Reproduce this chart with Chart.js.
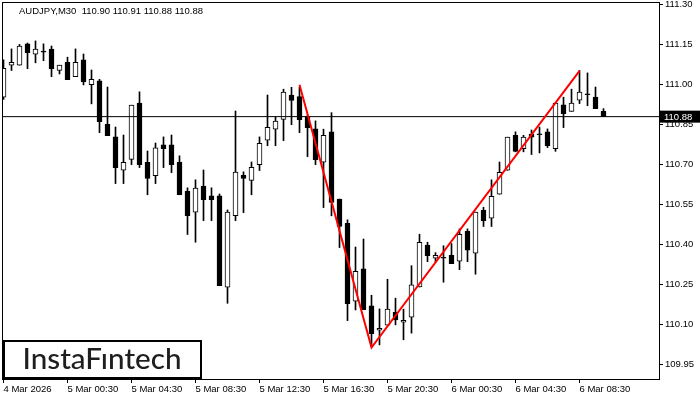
<!DOCTYPE html>
<html>
<head>
<meta charset="utf-8">
<script src="https://cdn.jsdelivr.net/npm/chart.js@4.4.1/dist/chart.umd.min.js"></script>
<style>
  html, body { margin: 0; background: #fff; }
  canvas { display: block; }
</style>
</head>
<body>
<canvas id="chart" width="700" height="400"></canvas>
<script>
const title = "AUDJPY,M30  110.90 110.91 110.88 110.88";
const tickIdx = [0, 8, 16, 24, 32, 40, 48, 56, 64, 72];
const tickLabels = ["4 Mar 2026", "5 Mar 00:30", "5 Mar 04:30", "5 Mar 08:30", "5 Mar 12:30",
  "5 Mar 16:30", "5 Mar 20:30", "6 Mar 00:30", "6 Mar 04:30", "6 Mar 08:30"];
const yTicks = [109.95, 110.10, 110.25, 110.40, 110.55, 110.70, 110.85, 111.00, 111.15, 111.30];
const yMin = 109.896, yMax = 111.310;
const lastPrice = 110.88;

// M30 candles, 4 Mar 20:30 .. 6 Mar 10:00
const opens = [110.953, 111.073, 111.073, 111.153, 111.114, 111.122, 111.133, 111.053, 111.084, 111.030,
  111.093, 111.000, 111.014, 110.851, 110.804, 110.679, 110.720, 110.931, 110.709, 110.659,
  110.774, 110.774, 110.710, 110.601, 110.522, 110.620, 110.583, 110.583, 110.240, 110.509,
  110.660, 110.641, 110.700, 110.792, 110.833, 110.870, 110.961, 110.955, 110.880, 110.834,
  110.709, 110.823, 110.571, 110.480, 110.188, 110.309, 110.170, 110.079, 110.098, 110.146,
  110.109, 110.128, 110.241, 110.398, 110.349, 110.349, 110.360, 110.338, 110.451, 110.368,
  110.530, 110.499, 110.589, 110.679, 110.810, 110.760, 110.815, 110.812, 110.823, 110.760,
  110.924, 110.900, 110.942, 110.962, 110.953, 110.900];
const highs = [111.093, 111.134, 111.151, 111.156, 111.164, 111.153, 111.145, 111.073, 111.103, 111.134,
  111.115, 111.055, 111.020, 110.991, 110.841, 110.811, 110.923, 110.973, 110.751, 110.781,
  110.804, 110.811, 110.733, 110.613, 110.643, 110.680, 110.613, 110.590, 110.530, 110.901,
  110.673, 110.710, 110.804, 110.961, 110.880, 110.983, 110.990, 110.990, 110.886, 110.864,
  110.833, 110.895, 110.571, 110.493, 110.391, 110.421, 110.210, 110.159, 110.270, 110.199,
  110.158, 110.321, 110.439, 110.409, 110.370, 110.396, 110.404, 110.459, 110.459, 110.522,
  110.540, 110.643, 110.710, 110.803, 110.823, 110.810, 110.830, 110.841, 110.834, 110.931,
  110.953, 110.983, 111.053, 111.044, 110.991, 110.910];
const lows = [110.945, 111.053, 111.073, 111.060, 111.082, 111.090, 111.030, 111.040, 111.019, 111.030,
  110.999, 110.928, 110.820, 110.809, 110.629, 110.629, 110.700, 110.689, 110.587, 110.629,
  110.689, 110.670, 110.587, 110.438, 110.409, 110.490, 110.490, 110.246, 110.180, 110.490,
  110.520, 110.587, 110.678, 110.771, 110.771, 110.790, 110.850, 110.820, 110.730, 110.700,
  110.539, 110.508, 110.389, 110.115, 110.155, 110.156, 110.017, 110.024, 110.098, 110.099,
  110.043, 110.068, 110.241, 110.336, 110.336, 110.259, 110.329, 110.306, 110.336, 110.289,
  110.468, 110.468, 110.589, 110.679, 110.748, 110.748, 110.738, 110.744, 110.764, 110.750,
  110.839, 110.900, 110.929, 110.921, 110.910, 110.880];
const closes = [111.061, 111.084, 111.145, 111.120, 111.133, 111.122, 111.060, 111.073, 111.019, 111.084,
  111.010, 111.020, 110.861, 110.809, 110.689, 110.709, 110.923, 110.700, 110.648, 110.763,
  110.760, 110.700, 110.587, 110.509, 110.612, 110.569, 110.569, 110.246, 110.522, 110.672,
  110.648, 110.690, 110.780, 110.840, 110.863, 110.972, 110.941, 110.869, 110.839, 110.719,
  110.810, 110.558, 110.468, 110.179, 110.300, 110.156, 110.066, 110.086, 110.158, 110.118,
  110.116, 110.249, 110.409, 110.359, 110.360, 110.349, 110.329, 110.439, 110.379, 110.522,
  110.490, 110.581, 110.671, 110.803, 110.750, 110.803, 110.803, 110.812, 110.771, 110.931,
  110.891, 110.931, 110.972, 110.962, 110.910, 110.880];

// double bottom / "V" pattern lines
const patIdx = [37, 46, 72];
const patVal = [111.00, 110.014, 111.052];

const idx = opens.map((_, i) => i);
const axisFont = { family: "Liberation Sans", size: 9.5 };

const overlay = {
  id: "overlay",
  afterDraw(chart) {
    const { ctx, chartArea: a, scales: { y } } = chart;
    ctx.save();
    // frame
    ctx.strokeStyle = "#000";
    ctx.lineWidth = 1;
    ctx.strokeRect(a.left - 0.5, a.top + 0.5, a.right - a.left + 1, a.bottom - a.top);
    // symbol header
    ctx.fillStyle = "#000";
    ctx.font = '9.5px "Liberation Sans"';
    ctx.textBaseline = "middle";
    ctx.fillText(title, 19, 11);
    // current price tag
    const py = y.getPixelForValue(lastPrice);
    ctx.fillRect(a.right + 1, py - 6, 40, 12);
    ctx.fillStyle = "#fff";
    ctx.fillText(lastPrice.toFixed(2), a.right + 5, py + 0.5);
    // logo
    ctx.fillStyle = "#fff";
    ctx.fillRect(4, 341, 197, 37);
    ctx.lineWidth = 2;
    ctx.strokeStyle = "#000";
    ctx.strokeRect(4, 341, 197, 37);
    const logo = "InstaF\u0131ntech";
    let size = 28;
    ctx.font = `500 ${size}px Lato`;
    size = size * 159 / ctx.measureText(logo).width;
    ctx.font = `500 ${size}px Lato`;
    ctx.fillStyle = "#1e1e1e";
    ctx.textAlign = "center";
    ctx.textBaseline = "alphabetic";
    ctx.fillText(logo, 102, 369);
    ctx.restore();
  }
};

new Chart(document.getElementById("chart"), {
  type: "bar",
  data: {
    datasets: [
      {
        type: "line", order: 0,
        data: patIdx.map((x, k) => ({ x, y: patVal[k] })),
        borderColor: "#ff0000", borderWidth: 2, pointRadius: 0, tension: 0
      },
      {
        type: "line", order: 1,
        data: [{ x: -1, y: lastPrice }, { x: 83, y: lastPrice }],
        borderColor: "#000", borderWidth: 1, pointRadius: 0
      },
      {
        type: "bar", order: 2, grouped: false, barThickness: 5,
        borderWidth: 1, borderSkipped: false, minBarLength: 1,
        data: idx.map(i => ({ x: i, y: [opens[i], closes[i]] })),
        backgroundColor: idx.map(i => closes[i] > opens[i] ? "#fff" : "#000"),
        borderColor: "#000"
      },
      {
        type: "bar", order: 3, grouped: false, barThickness: 1, borderWidth: 0,
        data: idx.map(i => ({ x: i, y: [lows[i], highs[i]] })),
        backgroundColor: "#000"
      }
    ]
  },
  options: {
    responsive: false,
    animation: false,
    devicePixelRatio: 1,
    layout: { padding: { left: 3, top: 2, right: 0, bottom: 0 } },
    plugins: { legend: { display: false }, tooltip: { enabled: false } },
    scales: {
      x: {
        type: "linear", min: -0.0625, max: 81.9375, offset: false,
        grid: { drawOnChartArea: false, drawTicks: true, tickLength: 4, color: "#000", offset: false },
        border: { display: true, color: "#000" },
        afterBuildTicks: s => { s.ticks = tickIdx.map(v => ({ value: v })); },
        afterFit: s => { s.height = 21; s.paddingLeft = 0; s.paddingRight = 0; },
        ticks: {
          autoSkip: false, maxRotation: 0, align: "start", padding: 1,
          color: "#000", font: axisFont,
          callback: (v, i) => tickLabels[i]
        }
      },
      y: {
        position: "right", min: yMin, max: yMax,
        grid: { drawOnChartArea: false, drawTicks: true, tickLength: 4, color: "#000" },
        border: { display: true, color: "#000" },
        afterBuildTicks: s => { s.ticks = yTicks.map(v => ({ value: v })); },
        afterFit: s => { s.width = 41; s.paddingTop = 0; s.paddingBottom = 0; },
        ticks: {
          padding: 2, color: "#000", font: axisFont,
          callback: v => v.toFixed(2)
        }
      }
    }
  },
  plugins: [overlay]
});
</script>
</body>
</html>
